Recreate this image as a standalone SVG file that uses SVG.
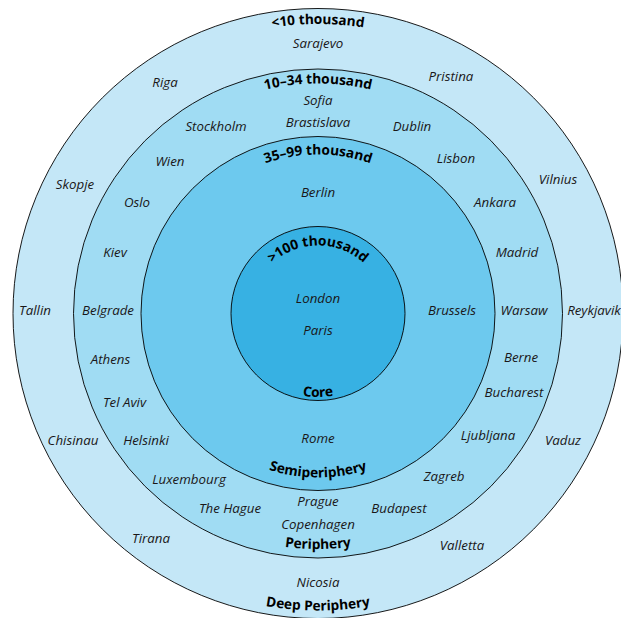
<svg xmlns="http://www.w3.org/2000/svg" width="621" height="618" viewBox="0 0 621 618">
<style>
.ring{stroke:#000;stroke-width:0.9}
.c{font-family:"Open Sans","Noto Sans",sans-serif;font-style:italic;font-size:13.3px;fill:#1a1718;text-anchor:middle}
.l{font-family:"Open Sans","Noto Sans",sans-serif;font-weight:700;font-size:13.7px;fill:#000;text-anchor:middle}
</style>
<defs>
<path id="t0" d="M28.5,313.5 A289.5,289.5 0 0 1 607.5,313.5"/>
<path id="t1" d="M88,313.5 A230,230 0 0 1 548,313.5"/>
<path id="t2" d="M159,313.5 A159,159 0 0 1 477,313.5"/>
<path id="t3" d="M250,313.5 A68,68 0 0 1 386,313.5"/>
<path id="b3" d="M234.5,313.5 A83.5,83.5 0 0 0 401.5,313.5"/>
<path id="b2" d="M154,313.5 A164,164 0 0 0 482,313.5"/>
<path id="b1" d="M82.5,313.5 A235.5,235.5 0 0 0 553.5,313.5"/>
<path id="b0" d="M21,313.5 A297,297 0 0 0 615,313.5"/>
</defs>
<g id="connectors"></g>
<g id="deep-periphery">
<circle class="ring" cx="318" cy="313.5" r="305" fill="#c4e7f7"/>
<text class="l"><textPath href="#t0" startOffset="50%">&lt;10 thousand</textPath></text>
<text class="l"><textPath href="#b0" startOffset="50%">Deep Periphery</textPath></text>
<text class="c" x="318" y="48">Sarajevo</text>
<text class="c" x="165" y="87">Riga</text>
<text class="c" x="451" y="81">Pristina</text>
<text class="c" x="75" y="189">Skopje</text>
<text class="c" x="558" y="184">Vilnius</text>
<text class="c" x="35" y="315">Tallin</text>
<text class="c" x="594" y="315">Reykjavik</text>
<text class="c" x="73" y="445">Chisinau</text>
<text class="c" x="563" y="445">Vaduz</text>
<text class="c" x="151" y="543">Tirana</text>
<text class="c" x="462" y="550">Valletta</text>
<text class="c" x="318" y="587">Nicosia</text>
</g>
<g id="periphery">
<circle class="ring" cx="318" cy="313.5" r="244.5" fill="#a0dcf3"/>
<text class="l"><textPath href="#t1" startOffset="50%">10–34 thousand</textPath></text>
<text class="l"><textPath href="#b1" startOffset="50%">Periphery</textPath></text>
<text class="c" x="318" y="105">Sofia</text>
<text class="c" x="318" y="126.5">Brastislava</text>
<text class="c" x="216" y="131">Stockholm</text>
<text class="c" x="412" y="131">Dublin</text>
<text class="c" x="170" y="165.5">Wien</text>
<text class="c" x="456" y="162.5">Lisbon</text>
<text class="c" x="137" y="206.5">Oslo</text>
<text class="c" x="495" y="206.5">Ankara</text>
<text class="c" x="115" y="257">Kiev</text>
<text class="c" x="517" y="257">Madrid</text>
<text class="c" x="108" y="315">Belgrade</text>
<text class="c" x="524" y="315">Warsaw</text>
<text class="c" x="110.5" y="364">Athens</text>
<text class="c" x="521" y="361.5">Berne</text>
<text class="c" x="124.5" y="407">Tel Aviv</text>
<text class="c" x="514" y="396.5">Bucharest</text>
<text class="c" x="146" y="445">Helsinki</text>
<text class="c" x="488" y="440">Ljubljana</text>
<text class="c" x="189" y="484">Luxembourg</text>
<text class="c" x="444" y="480.5">Zagreb</text>
<text class="c" x="230" y="513">The Hague</text>
<text class="c" x="399" y="513">Budapest</text>
<text class="c" x="318" y="506">Prague</text>
<text class="c" x="318" y="528.5">Copenhagen</text>
</g>
<g id="semiperiphery">
<circle class="ring" cx="318" cy="313.5" r="177" fill="#6dc9ee"/>
<text class="l"><textPath href="#t2" startOffset="50%">35–99 thousand</textPath></text>
<text class="l"><textPath href="#b2" startOffset="50%">Semiperiphery</textPath></text>
<text class="c" x="318" y="197">Berlin</text>
<text class="c" x="452" y="315">Brussels</text>
<text class="c" x="318" y="443">Rome</text>
</g>
<g id="core">
<circle class="ring" cx="318" cy="313.5" r="87" fill="#37b1e3"/>
<text class="l"><textPath href="#t3" startOffset="50%">&gt;100 thousand</textPath></text>
<text class="l"><textPath href="#b3" startOffset="50%">Core</textPath></text>
<text class="c" x="318" y="302.5">London</text>
<text class="c" x="318" y="335">Paris</text>
</g>
</svg>
